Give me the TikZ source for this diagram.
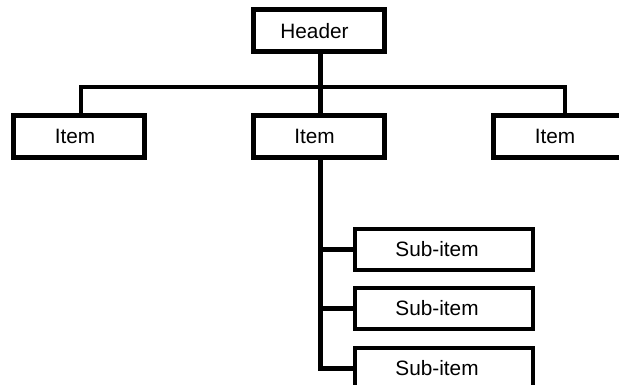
\documentclass[tikz,border=0pt]{standalone}
\usepackage{fontspec}
\setmainfont{Liberation Sans}
\begin{document}
\begin{tikzpicture}[x=1pt,y=-1pt,
  box/.style={draw,line width=5pt,fill=white,inner sep=0pt,
    minimum width=131pt,minimum height=42pt,font=\fontsize{20.8}{24}\selectfont,
    execute at begin node={\hspace*{-8pt}}},
  subbox/.style={draw,line width=3.5pt,fill=white,inner sep=0pt,
    minimum width=178pt,minimum height=41pt,font=\fontsize{20.8}{24}\selectfont,
    execute at begin node={\hspace*{-14pt}}},
  link/.style={line width=5pt,line join=miter},
  thinlink/.style={line width=4pt,line join=miter}]
\useasboundingbox (0,0) rectangle (619,385);
\clip (0,0) rectangle (619,385);
\coordinate (bl) at (80.5,87);
\coordinate (br) at (565,87);
\coordinate (t) at (320,87);
\coordinate (e) at (320,368);
\node[box] (h) at (318.5,31) {Header};
\node[box] (i1) at (79,136.5) {Item};
\node[box] (i2) at (318.5,136.5) {Item};
\node[box] (i3) at (559,136.5) {Item};
\node[subbox] (s1) at (444,249.5) {Sub-item};
\node[subbox] (s2) at (444,308.5) {Sub-item};
\node[subbox] (s3) at (444,368.5) {Sub-item};
\draw[thinlink] (i1.north -| bl) -- (bl) -- (br) -- (i3.north -| br);
\draw[link] (h.south -| t) -- (i2.north -| t);
\draw[link] (i2.south -| t) -- (e) -- (s3.west |- e);
\draw[link] (s1.west -| t) -- (s1.west);
\draw[link] (s2.west -| t) -- (s2.west);
\end{tikzpicture}
\end{document}
